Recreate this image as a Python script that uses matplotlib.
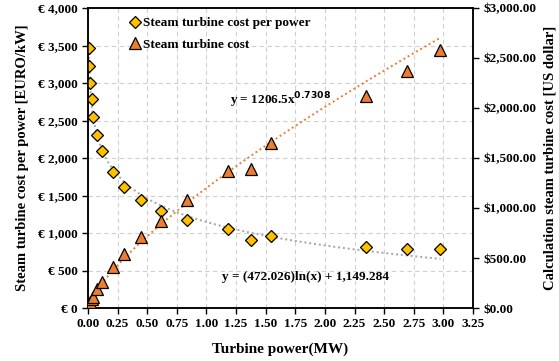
import matplotlib.pyplot as plt
import numpy as np
from matplotlib.ticker import FuncFormatter, MultipleLocator

plt.rcParams["font.family"] = ["Liberation Serif", "DejaVu Serif"]
plt.rcParams["font.weight"] = "bold"
plt.rcParams["mathtext.default"] = "bf"

# turbine power (MW)
power_mw = [0.005, 0.012, 0.02, 0.03, 0.04, 0.08, 0.12, 0.215, 0.305, 0.445,
            0.62, 0.84, 1.185, 1.38, 1.545, 2.345, 2.695, 2.975]
# steam turbine cost per power (EURO/kW), left axis
cost_per_power = [3471, 3231, 2996, 2791, 2551, 2311, 2098, 1809, 1609, 1440,
                  1293, 1169, 1049, 907, 960, 815, 791, 783]
# steam turbine cost (US dollar), right axis
turbine_cost = [20, 45, 65, 90, 110, 192, 258, 415, 540, 707,
                870, 1080, 1370, 1387, 1653, 2123, 2373, 2580]

DIAMOND = "#FFC000"
TRIANGLE = "#ED7D31"
GRAY = "#A5A5A5"

x = np.array(power_mw)
pp = np.array(cost_per_power)
tc = np.array(turbine_cost)

fig = plt.figure(figsize=(5.59, 3.61), dpi=100)
ax = fig.add_axes([0.1574, 0.1468, 0.6887, 0.8310])
ax2 = ax.twinx()

# trendlines fitted from the data
xs = np.linspace(x.min(), x.max(), 300)
a_log, b_log = np.polyfit(np.log(x), pp, 1)
ax.plot(xs, a_log * np.log(xs) + b_log, color=GRAY, lw=1.4,
        ls=(0, (1, 1.5)), zorder=2)
k_pow, ln_c = np.polyfit(np.log(x), np.log(tc), 1)
ax2.plot(xs, np.exp(ln_c) * xs ** k_pow, color=TRIANGLE, lw=1.4,
         ls=(0, (1, 1.5)), zorder=2)

h1, = ax.plot(x, pp, ls="none", marker="D", ms=6.5, mfc=DIAMOND, mec="black",
              mew=0.9, zorder=4, label="Steam turbine cost per power")
h2, = ax2.plot(x, tc, ls="none", marker="^", ms=8, mfc=TRIANGLE, mec="black",
               mew=0.9, zorder=4, label="Steam turbine cost")

ax.set_xlim(0, 3.25)
ax.set_ylim(0, 4000)
ax2.set_ylim(0, 3000)
ax.xaxis.set_major_locator(MultipleLocator(0.25))
ax.yaxis.set_major_locator(MultipleLocator(500))
ax2.yaxis.set_major_locator(MultipleLocator(500))
ax.xaxis.set_major_formatter(FuncFormatter(lambda v, p: f"{v:.2f}"))
ax.yaxis.set_major_formatter(FuncFormatter(lambda v, p: f"€ {v:,.0f}"))
ax2.yaxis.set_major_formatter(FuncFormatter(lambda v, p: f"${v:,.2f}"))

ax.grid(True, color="#D0D0D0", ls=(0, (4, 3)), lw=0.8)
ax.set_axisbelow(True)
for a in (ax, ax2):
    a.tick_params(labelsize=9.5, length=4, width=1, direction="out")
    for s in a.spines.values():
        s.set_linewidth(1.1)
ax2.set_zorder(ax.get_zorder() + 1)
ax2.patch.set_visible(False)

ax.set_xlabel("Turbine power(MW)", fontsize=11, fontweight="bold", labelpad=9)
ax.set_ylabel("Steam turbine cost per power [EURO/kW]", fontsize=10.5,
              fontweight="bold", labelpad=6)
ax2.set_ylabel("Calculation steam turbine cost [US dollar]", fontsize=10.5,
               fontweight="bold", labelpad=5)

ax2.legend(handles=[h1, h2], loc="upper left", bbox_to_anchor=(0.08, 1.0),
           frameon=False, fontsize=9.5, handletextpad=0.1, handlelength=1.0,
           borderaxespad=0.3, labelspacing=0.7)

ax.text(1.63, 2770, r"y = 1206.5x$^{0.7308}$", fontsize=9.5,
        fontweight="bold", ha="center", va="center")
ax.text(1.13, 420, "y = (472.026)ln(x) + 1,149.284", fontsize=9.5,
        fontweight="bold", ha="left", va="center")

fig.savefig("out.png", dpi=100)
